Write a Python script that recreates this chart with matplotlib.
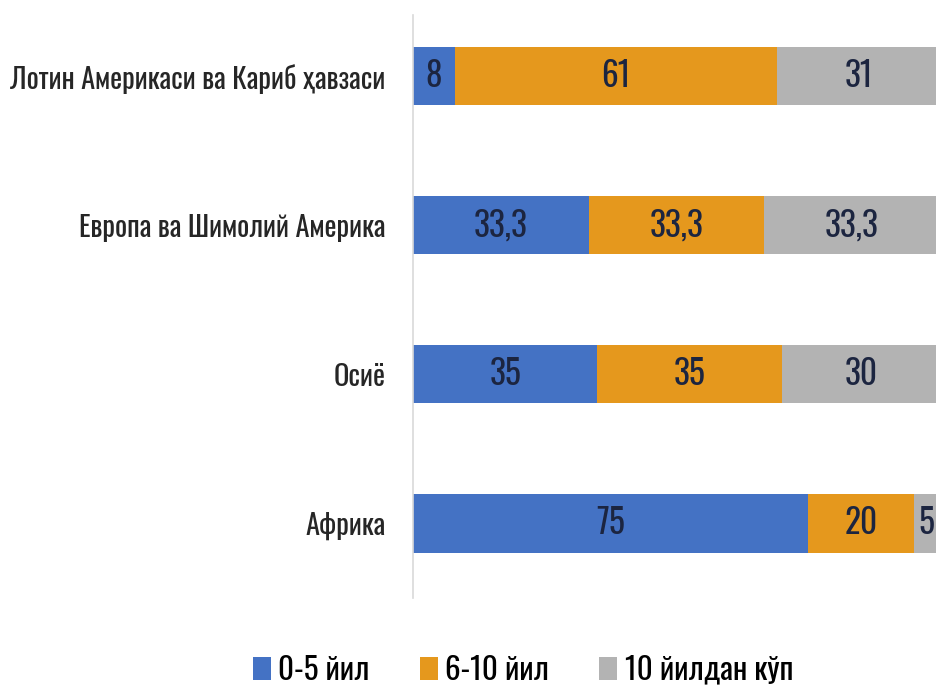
import numpy as np
import matplotlib.pyplot as plt

plt.rcParams['font.family'] = ['Oswald', 'PT Sans Narrow', 'DejaVu Sans']
plt.rcParams['font.weight'] = 'light'

regions = ['Африка', 'Осиё', 'Европа ва Шимолий Америка',
           'Лотин Америкаси ва Кариб ҳавзаси']
series_names = ['0-5 йил', '6-10 йил', '10 йилдан кўп']
vals_0_5 = [75, 35, 33.3, 8]
vals_6_10 = [20, 35, 33.3, 61]
vals_10p = [5, 30, 33.3, 31]
value_labels = [['75', '35', '33,3', '8'],
                ['20', '35', '33,3', '61'],
                ['5', '30', '33,3', '31']]

colors = ['#4472C4', '#E5981D', '#B3B3B3']
txt_color = '#1C2540'

fig = plt.figure(figsize=(9.37, 6.91), dpi=100)
ax = fig.add_axes([0.4408, 0.1346, 0.5624, 0.8437])

y = np.arange(len(regions))
left = np.zeros(len(regions))
for vals, labs, c, name in zip([vals_0_5, vals_6_10, vals_10p], value_labels, colors, series_names):
    vals = np.array(vals, dtype=float)
    ax.barh(y, vals, left=left, height=0.39, color=c, label=name)
    for yi, l, v, s in zip(y, left, vals, labs):
        ax.text(l + v / 2, yi, s, ha='center', va='center', fontsize=24, color=txt_color)
    left = left + vals

ax.set_xlim(0, 100)
ax.set_ylim(-0.5, 3.41)
ax.set_yticks(y)
ax.set_yticklabels(regions, fontsize=20.5, color='#262626')
ax.set_xticks([])
ax.tick_params(axis='y', length=0, pad=20)
for s in ['top', 'right', 'bottom']:
    ax.spines[s].set_visible(False)
ax.spines['left'].set_color('#D9D9D9')
ax.spines['left'].set_linewidth(1.2)

fig.legend(loc='center', bbox_to_anchor=(523 / 937, 1 - 670 / 691), ncol=3, frameon=False,
           fontsize=22.5, handlelength=0.57, handleheight=0.75, handletextpad=0.25, columnspacing=1.6)

fig.savefig('out.png', dpi=100)
